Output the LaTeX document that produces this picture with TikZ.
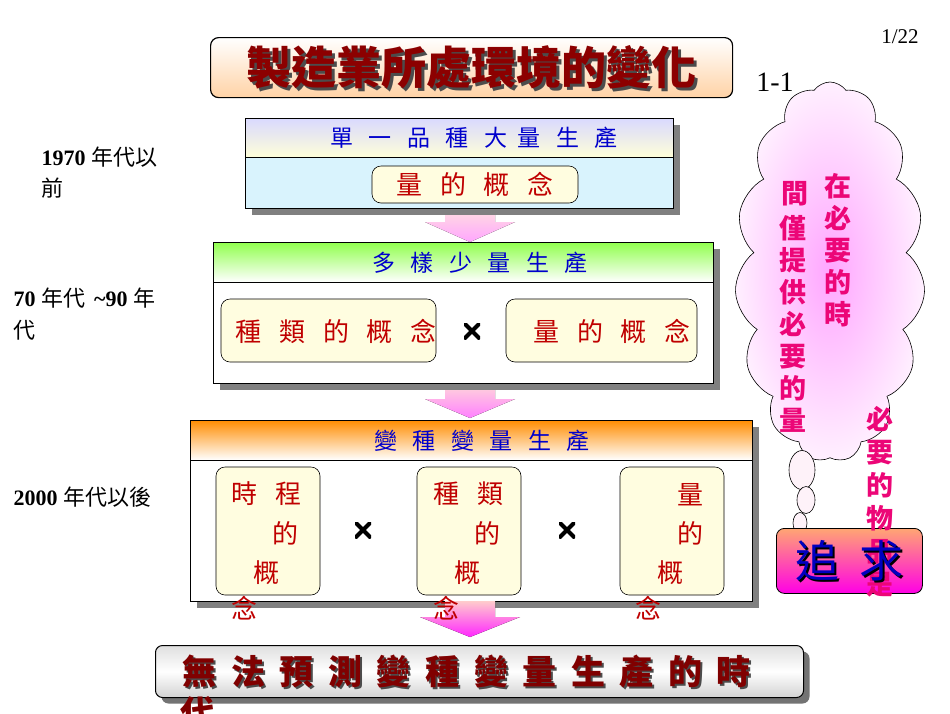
\documentclass[tikz,border=0pt]{standalone}
\usepackage{fontspec}
\setmainfont{Liberation Serif}
\newfontfamily\cjk{Noto Sans CJK TC}
\newfontfamily\cjkls{Noto Sans CJK TC}[LetterSpace=20]
\newfontfamily\cjkhs{Noto Sans CJK TC}[LetterSpace=45]
\usetikzlibrary{shapes.symbols,shadows}
\tikzset{
 panel/.style={draw=black,line width=0.8pt,drop shadow={shadow xshift=7pt,shadow yshift=-7pt,fill=black!50,opacity=1}},
 hdr/.style={draw=black,line width=0.6pt},
 inner/.style={draw=black,rounded corners=9pt,fill=yellow!12,line width=0.6pt},
 htxt/.style={font=\cjkhs\fontsize{23}{26}\selectfont,text=blue!80!black},
 rtxt/.style={font=\cjkhs\fontsize{26}{30}\selectfont,text=red!75!black},
 lbl/.style={font=\fontsize{22}{26}\selectfont\bfseries,anchor=west},
 ptxt/.style={font=\cjk\bfseries\fontsize{27}{32}\selectfont,text=magenta!80!red,align=center,text width=28pt,anchor=north},
 times/.style={minimum size=16pt,inner sep=0pt,
   path picture={\draw[line width=4pt] (path picture bounding box.north west)--(path picture bounding box.south east)
     (path picture bounding box.north east)--(path picture bounding box.south west);}}
}
\begin{document}
\begin{tikzpicture}[x=1pt,y=-1pt]
\useasboundingbox (0,0) rectangle (950,713);
\fill[white] (0,0) rectangle (950,713);
% title
\node[draw=black,line width=1.2pt,rounded corners=8pt,top color=white,bottom color=orange!35,minimum width=522pt,minimum height=60pt,anchor=north west] (title) at (210,37) {};
\node[font=\cjk\bfseries\fontsize{45}{48}\selectfont,text=black!70] at ([xshift=2.5pt,yshift=-2.5pt]title.center) {製造業所處環境的變化};
\node[font=\cjk\bfseries\fontsize{45}{48}\selectfont,text=red!55!black] (tt) at (title.center) {製造業所處環境的變化};
\node[font=\fontsize{21}{24}\selectfont] (pg) at (900,37) {1/22};
\node[font=\fontsize{28}{30}\selectfont] (num) at (775,82) {1-1};
% left labels
\node[lbl] (l1) at (38,157) {1970 {\mdseries\cjk 年代以}};
\node[lbl] (l1b) at (38,188) {\mdseries\cjk 前};
\node[lbl] (l2) at (10,298) {70 {\mdseries\cjk 年代} \,\textasciitilde 90 {\mdseries\cjk 年}};
\node[lbl] (l2b) at (10,330) {\mdseries\cjk 代};
\node[lbl] (l3) at (10,497) {2000 {\mdseries\cjk 年代以後}};
% arrows
\fill[top color=pink!50,bottom color=magenta!35] (445,208) -- (495,208) -- (495,222) -- (515,222) -- (470,242) -- (425,222) -- (445,222) -- cycle;
\fill[top color=pink!60,bottom color=magenta!50] (445,383) -- (495,383) -- (495,399) -- (515,399) -- (470,418) -- (425,399) -- (445,399) -- cycle;
% box1
\node[panel,fill=cyan!15,minimum width=428pt,minimum height=90pt,anchor=north west] (b1) at (245,118) {};
\draw[hdr,top color=blue!15,bottom color=yellow!15] (245,118) rectangle (673,157);
\node[htxt] (h1) at (474,138) {單 一 品 種 大量 生 產};
\node[inner,minimum width=206pt,minimum height=37pt] (i1) at (475,184.5) {};
\node[rtxt] at (i1) {量 的 概 念};
% box2
\node[panel,fill=white,minimum width=500pt,minimum height=141pt,anchor=north west] (b2) at (213,242) {};
\draw[hdr,top color=green!50!lime!70,bottom color=white] (213,242) rectangle (713,282);
\node[htxt] (h2) at (480,263) {多 樣 少 量 生 產};
\node[inner,minimum width=215pt,minimum height=63pt] (i21) at (328.5,330.5) {};
\node[rtxt] at (336,331) {種 類 的 概 念};
\node[inner,minimum width=191pt,minimum height=63pt] (i22) at (601.5,330.5) {};
\node[rtxt] at (612,331) {量 的 概 念};
\node[times] (x1) at (472,331) {};
% box3
\node[panel,fill=white,minimum width=562pt,minimum height=181pt,anchor=north west] (b3) at (190,420) {};
\draw[hdr,top color=orange!90!yellow,bottom color=white] (190,420) rectangle (752,460);
\node[htxt] (h3) at (482,441) {變 種 變 量 生 產};
\foreach \n/\x in {a/268,b/469,c/672}{
 \node[inner,minimum width=104pt,minimum height=128pt] (i3\n) at (\x,531) {};
}
\node[rtxt,anchor=north west] at (228,478) {時 程};
\node[rtxt] at (285,533) {的};
\node[rtxt] at (266,573) {概};
\node[rtxt] at (244,608) {念};
\node[rtxt,anchor=north west] at (430,478) {種 類};
\node[rtxt] at (487,533) {的};
\node[rtxt] at (467,573) {概};
\node[rtxt] at (690,495) {量};
\node[rtxt] at (690,533) {的};
\node[rtxt] at (670,573) {概};
\node[rtxt] at (648,608) {念};
\node[times] (x2) at (363,530) {};
\node[times] (x3) at (567,530) {};
% arrow3
\fill[top color=pink!80,bottom color=magenta!85] (445,601) -- (495,601) -- (495,617) -- (520,617) -- (470,637) -- (420,617) -- (445,617) -- cycle;
\node[rtxt] at (446,608) {念};
% bottom
\node[draw=black,line width=1pt,rounded corners=7pt,top color=gray!25,bottom color=gray!35,middle color=white,minimum width=648pt,minimum height=52pt,anchor=north west,drop shadow={shadow xshift=6pt,shadow yshift=-6pt,fill=black!55,opacity=1}] (bot) at (155,645) {};
\node[font=\cjkls\bfseries\fontsize{34}{38}\selectfont,text=black!70,anchor=west] at (181,673) {無 法 預 測 變 種 變 量 生 產 的 時};
\node[font=\cjkls\bfseries\fontsize{34}{38}\selectfont,text=red!50!black,anchor=west] (bt) at (179,671) {無 法 預 測 變 種 變 量 生 產 的 時};
\node[font=\cjk\bfseries\fontsize{34}{38}\selectfont,text=red!50!black,anchor=north west,inner sep=0pt] (bt2) at (180,696) {代};
% cloud
\node[cloud,cloud puffs=15,cloud puff arc=110,aspect=0.5,draw=black,line width=0.6pt,inner color=magenta!35,outer color=magenta!6,minimum width=190pt,minimum height=380pt] (cl) at (830,272) {};
\foreach \cx/\cy/\r in {802/470/13,806/500/9,800/523/7}
 \draw[line width=0.6pt,fill=magenta!5] (\cx,\cy) ellipse ({\r pt} and {1.5*\r pt});
\node[ptxt] (c1) at (838,170) {在\\必\\要\\的\\時};
\node[ptxt] (c2) at (795,178) {間};
\node[ptxt] (c3) at (793,212) {僅\\提\\供\\必\\要\\的\\量};
% goal box
\node[draw=black,line width=0.8pt,rounded corners=8pt,top color=orange!40!pink,bottom color=magenta!90!red,minimum width=146pt,minimum height=65pt,anchor=north west] (goal) at (776,528) {};
\node[ptxt,font=\cjk\bfseries\fontsize{27}{33}\selectfont] (c4) at (880,403) {必\\要\\的\\物\\品\\是};
\node[font=\cjk\fontsize{44}{48}\selectfont,text=black] at ([xshift=2pt,yshift=-2pt]goal.center) {追\ \ 求};
\node[font=\cjk\fontsize{44}{48}\selectfont,text=blue!75!black] (gt) at (goal.center) {追\ \ 求};
\end{tikzpicture}
\end{document}
